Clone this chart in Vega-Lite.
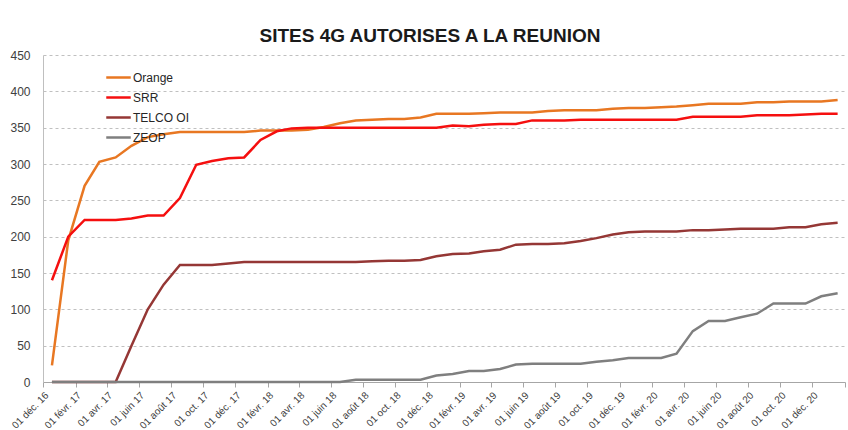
{
  "$schema": "https://vega.github.io/schema/vega-lite/v6.json",
  "width": 802,
  "height": 327,
  "autosize": "none",
  "padding": {"left": 43, "top": 55, "right": 3, "bottom": 48},
  "background": "white",
  "title": {"text": "SITES 4G AUTORISES A LA REUNION", "font": "Liberation Sans", "fontSize": 19, "fontWeight": "bold", "color": "#1a1a1a", "offset": 3, "dx": -14, "anchor": "middle"},
  "data": {"values": [
    {"date": "2016/12/18", "operator": "Orange", "sites": 23},
    {"date": "2017/01/18", "operator": "Orange", "sites": 195},
    {"date": "2017/02/18", "operator": "Orange", "sites": 270},
    {"date": "2017/03/18", "operator": "Orange", "sites": 303},
    {"date": "2017/04/18", "operator": "Orange", "sites": 309},
    {"date": "2017/05/18", "operator": "Orange", "sites": 325},
    {"date": "2017/06/18", "operator": "Orange", "sites": 337},
    {"date": "2017/07/18", "operator": "Orange", "sites": 341},
    {"date": "2017/08/18", "operator": "Orange", "sites": 344},
    {"date": "2017/09/18", "operator": "Orange", "sites": 344},
    {"date": "2017/10/18", "operator": "Orange", "sites": 344},
    {"date": "2017/11/18", "operator": "Orange", "sites": 344},
    {"date": "2017/12/18", "operator": "Orange", "sites": 344},
    {"date": "2018/01/18", "operator": "Orange", "sites": 346},
    {"date": "2018/02/18", "operator": "Orange", "sites": 346},
    {"date": "2018/03/18", "operator": "Orange", "sites": 346},
    {"date": "2018/04/18", "operator": "Orange", "sites": 347},
    {"date": "2018/05/18", "operator": "Orange", "sites": 351},
    {"date": "2018/06/18", "operator": "Orange", "sites": 356},
    {"date": "2018/07/18", "operator": "Orange", "sites": 360},
    {"date": "2018/08/18", "operator": "Orange", "sites": 361},
    {"date": "2018/09/18", "operator": "Orange", "sites": 362},
    {"date": "2018/10/18", "operator": "Orange", "sites": 362},
    {"date": "2018/11/18", "operator": "Orange", "sites": 364},
    {"date": "2018/12/18", "operator": "Orange", "sites": 369},
    {"date": "2019/01/18", "operator": "Orange", "sites": 369},
    {"date": "2019/02/18", "operator": "Orange", "sites": 369},
    {"date": "2019/03/18", "operator": "Orange", "sites": 370},
    {"date": "2019/04/18", "operator": "Orange", "sites": 371},
    {"date": "2019/05/18", "operator": "Orange", "sites": 371},
    {"date": "2019/06/18", "operator": "Orange", "sites": 371},
    {"date": "2019/07/18", "operator": "Orange", "sites": 373},
    {"date": "2019/08/18", "operator": "Orange", "sites": 374},
    {"date": "2019/09/18", "operator": "Orange", "sites": 374},
    {"date": "2019/10/18", "operator": "Orange", "sites": 374},
    {"date": "2019/11/18", "operator": "Orange", "sites": 376},
    {"date": "2019/12/18", "operator": "Orange", "sites": 377},
    {"date": "2020/01/18", "operator": "Orange", "sites": 377},
    {"date": "2020/02/18", "operator": "Orange", "sites": 378},
    {"date": "2020/03/18", "operator": "Orange", "sites": 379},
    {"date": "2020/04/18", "operator": "Orange", "sites": 381},
    {"date": "2020/05/18", "operator": "Orange", "sites": 383},
    {"date": "2020/06/18", "operator": "Orange", "sites": 383},
    {"date": "2020/07/18", "operator": "Orange", "sites": 383},
    {"date": "2020/08/18", "operator": "Orange", "sites": 385},
    {"date": "2020/09/18", "operator": "Orange", "sites": 385},
    {"date": "2020/10/18", "operator": "Orange", "sites": 386},
    {"date": "2020/11/18", "operator": "Orange", "sites": 386},
    {"date": "2020/12/18", "operator": "Orange", "sites": 386},
    {"date": "2021/01/18", "operator": "Orange", "sites": 388},
    {"date": "2016/12/18", "operator": "SRR", "sites": 140},
    {"date": "2017/01/18", "operator": "SRR", "sites": 200},
    {"date": "2017/02/18", "operator": "SRR", "sites": 223},
    {"date": "2017/03/18", "operator": "SRR", "sites": 223},
    {"date": "2017/04/18", "operator": "SRR", "sites": 223},
    {"date": "2017/05/18", "operator": "SRR", "sites": 225},
    {"date": "2017/06/18", "operator": "SRR", "sites": 229},
    {"date": "2017/07/18", "operator": "SRR", "sites": 229},
    {"date": "2017/08/18", "operator": "SRR", "sites": 253},
    {"date": "2017/09/18", "operator": "SRR", "sites": 299},
    {"date": "2017/10/18", "operator": "SRR", "sites": 304},
    {"date": "2017/11/18", "operator": "SRR", "sites": 308},
    {"date": "2017/12/18", "operator": "SRR", "sites": 309},
    {"date": "2018/01/18", "operator": "SRR", "sites": 333},
    {"date": "2018/02/18", "operator": "SRR", "sites": 345},
    {"date": "2018/03/18", "operator": "SRR", "sites": 349},
    {"date": "2018/04/18", "operator": "SRR", "sites": 350},
    {"date": "2018/05/18", "operator": "SRR", "sites": 350},
    {"date": "2018/06/18", "operator": "SRR", "sites": 350},
    {"date": "2018/07/18", "operator": "SRR", "sites": 350},
    {"date": "2018/08/18", "operator": "SRR", "sites": 350},
    {"date": "2018/09/18", "operator": "SRR", "sites": 350},
    {"date": "2018/10/18", "operator": "SRR", "sites": 350},
    {"date": "2018/11/18", "operator": "SRR", "sites": 350},
    {"date": "2018/12/18", "operator": "SRR", "sites": 350},
    {"date": "2019/01/18", "operator": "SRR", "sites": 353},
    {"date": "2019/02/18", "operator": "SRR", "sites": 352},
    {"date": "2019/03/18", "operator": "SRR", "sites": 354},
    {"date": "2019/04/18", "operator": "SRR", "sites": 355},
    {"date": "2019/05/18", "operator": "SRR", "sites": 355},
    {"date": "2019/06/18", "operator": "SRR", "sites": 360},
    {"date": "2019/07/18", "operator": "SRR", "sites": 360},
    {"date": "2019/08/18", "operator": "SRR", "sites": 360},
    {"date": "2019/09/18", "operator": "SRR", "sites": 361},
    {"date": "2019/10/18", "operator": "SRR", "sites": 361},
    {"date": "2019/11/18", "operator": "SRR", "sites": 361},
    {"date": "2019/12/18", "operator": "SRR", "sites": 361},
    {"date": "2020/01/18", "operator": "SRR", "sites": 361},
    {"date": "2020/02/18", "operator": "SRR", "sites": 361},
    {"date": "2020/03/18", "operator": "SRR", "sites": 361},
    {"date": "2020/04/18", "operator": "SRR", "sites": 365},
    {"date": "2020/05/18", "operator": "SRR", "sites": 365},
    {"date": "2020/06/18", "operator": "SRR", "sites": 365},
    {"date": "2020/07/18", "operator": "SRR", "sites": 365},
    {"date": "2020/08/18", "operator": "SRR", "sites": 367},
    {"date": "2020/09/18", "operator": "SRR", "sites": 367},
    {"date": "2020/10/18", "operator": "SRR", "sites": 367},
    {"date": "2020/11/18", "operator": "SRR", "sites": 368},
    {"date": "2020/12/18", "operator": "SRR", "sites": 369},
    {"date": "2021/01/18", "operator": "SRR", "sites": 369},
    {"date": "2016/12/18", "operator": "TELCO OI", "sites": 0},
    {"date": "2017/01/18", "operator": "TELCO OI", "sites": 0},
    {"date": "2017/02/18", "operator": "TELCO OI", "sites": 0},
    {"date": "2017/03/18", "operator": "TELCO OI", "sites": 0},
    {"date": "2017/04/18", "operator": "TELCO OI", "sites": 0},
    {"date": "2017/05/18", "operator": "TELCO OI", "sites": 50},
    {"date": "2017/06/18", "operator": "TELCO OI", "sites": 100},
    {"date": "2017/07/18", "operator": "TELCO OI", "sites": 134},
    {"date": "2017/08/18", "operator": "TELCO OI", "sites": 161},
    {"date": "2017/09/18", "operator": "TELCO OI", "sites": 161},
    {"date": "2017/10/18", "operator": "TELCO OI", "sites": 161},
    {"date": "2017/11/18", "operator": "TELCO OI", "sites": 163},
    {"date": "2017/12/18", "operator": "TELCO OI", "sites": 165},
    {"date": "2018/01/18", "operator": "TELCO OI", "sites": 165},
    {"date": "2018/02/18", "operator": "TELCO OI", "sites": 165},
    {"date": "2018/03/18", "operator": "TELCO OI", "sites": 165},
    {"date": "2018/04/18", "operator": "TELCO OI", "sites": 165},
    {"date": "2018/05/18", "operator": "TELCO OI", "sites": 165},
    {"date": "2018/06/18", "operator": "TELCO OI", "sites": 165},
    {"date": "2018/07/18", "operator": "TELCO OI", "sites": 165},
    {"date": "2018/08/18", "operator": "TELCO OI", "sites": 166},
    {"date": "2018/09/18", "operator": "TELCO OI", "sites": 167},
    {"date": "2018/10/18", "operator": "TELCO OI", "sites": 167},
    {"date": "2018/11/18", "operator": "TELCO OI", "sites": 168},
    {"date": "2018/12/18", "operator": "TELCO OI", "sites": 173},
    {"date": "2019/01/18", "operator": "TELCO OI", "sites": 176},
    {"date": "2019/02/18", "operator": "TELCO OI", "sites": 177},
    {"date": "2019/03/18", "operator": "TELCO OI", "sites": 180},
    {"date": "2019/04/18", "operator": "TELCO OI", "sites": 182},
    {"date": "2019/05/18", "operator": "TELCO OI", "sites": 189},
    {"date": "2019/06/18", "operator": "TELCO OI", "sites": 190},
    {"date": "2019/07/18", "operator": "TELCO OI", "sites": 190},
    {"date": "2019/08/18", "operator": "TELCO OI", "sites": 191},
    {"date": "2019/09/18", "operator": "TELCO OI", "sites": 194},
    {"date": "2019/10/18", "operator": "TELCO OI", "sites": 198},
    {"date": "2019/11/18", "operator": "TELCO OI", "sites": 203},
    {"date": "2019/12/18", "operator": "TELCO OI", "sites": 206},
    {"date": "2020/01/18", "operator": "TELCO OI", "sites": 207},
    {"date": "2020/02/18", "operator": "TELCO OI", "sites": 207},
    {"date": "2020/03/18", "operator": "TELCO OI", "sites": 207},
    {"date": "2020/04/18", "operator": "TELCO OI", "sites": 209},
    {"date": "2020/05/18", "operator": "TELCO OI", "sites": 209},
    {"date": "2020/06/18", "operator": "TELCO OI", "sites": 210},
    {"date": "2020/07/18", "operator": "TELCO OI", "sites": 211},
    {"date": "2020/08/18", "operator": "TELCO OI", "sites": 211},
    {"date": "2020/09/18", "operator": "TELCO OI", "sites": 211},
    {"date": "2020/10/18", "operator": "TELCO OI", "sites": 213},
    {"date": "2020/11/18", "operator": "TELCO OI", "sites": 213},
    {"date": "2020/12/18", "operator": "TELCO OI", "sites": 217},
    {"date": "2021/01/18", "operator": "TELCO OI", "sites": 219},
    {"date": "2016/12/18", "operator": "ZEOP", "sites": 0},
    {"date": "2017/01/18", "operator": "ZEOP", "sites": 0},
    {"date": "2017/02/18", "operator": "ZEOP", "sites": 0},
    {"date": "2017/03/18", "operator": "ZEOP", "sites": 0},
    {"date": "2017/04/18", "operator": "ZEOP", "sites": 0},
    {"date": "2017/05/18", "operator": "ZEOP", "sites": 0},
    {"date": "2017/06/18", "operator": "ZEOP", "sites": 0},
    {"date": "2017/07/18", "operator": "ZEOP", "sites": 0},
    {"date": "2017/08/18", "operator": "ZEOP", "sites": 0},
    {"date": "2017/09/18", "operator": "ZEOP", "sites": 0},
    {"date": "2017/10/18", "operator": "ZEOP", "sites": 0},
    {"date": "2017/11/18", "operator": "ZEOP", "sites": 0},
    {"date": "2017/12/18", "operator": "ZEOP", "sites": 0},
    {"date": "2018/01/18", "operator": "ZEOP", "sites": 0},
    {"date": "2018/02/18", "operator": "ZEOP", "sites": 0},
    {"date": "2018/03/18", "operator": "ZEOP", "sites": 0},
    {"date": "2018/04/18", "operator": "ZEOP", "sites": 0},
    {"date": "2018/05/18", "operator": "ZEOP", "sites": 0},
    {"date": "2018/06/18", "operator": "ZEOP", "sites": 0},
    {"date": "2018/07/18", "operator": "ZEOP", "sites": 3},
    {"date": "2018/08/18", "operator": "ZEOP", "sites": 3},
    {"date": "2018/09/18", "operator": "ZEOP", "sites": 3},
    {"date": "2018/10/18", "operator": "ZEOP", "sites": 3},
    {"date": "2018/11/18", "operator": "ZEOP", "sites": 3},
    {"date": "2018/12/18", "operator": "ZEOP", "sites": 9},
    {"date": "2019/01/18", "operator": "ZEOP", "sites": 11},
    {"date": "2019/02/18", "operator": "ZEOP", "sites": 15},
    {"date": "2019/03/18", "operator": "ZEOP", "sites": 15},
    {"date": "2019/04/18", "operator": "ZEOP", "sites": 18},
    {"date": "2019/05/18", "operator": "ZEOP", "sites": 24},
    {"date": "2019/06/18", "operator": "ZEOP", "sites": 25},
    {"date": "2019/07/18", "operator": "ZEOP", "sites": 25},
    {"date": "2019/08/18", "operator": "ZEOP", "sites": 25},
    {"date": "2019/09/18", "operator": "ZEOP", "sites": 25},
    {"date": "2019/10/18", "operator": "ZEOP", "sites": 28},
    {"date": "2019/11/18", "operator": "ZEOP", "sites": 30},
    {"date": "2019/12/18", "operator": "ZEOP", "sites": 33},
    {"date": "2020/01/18", "operator": "ZEOP", "sites": 33},
    {"date": "2020/02/18", "operator": "ZEOP", "sites": 33},
    {"date": "2020/03/18", "operator": "ZEOP", "sites": 39},
    {"date": "2020/04/18", "operator": "ZEOP", "sites": 70},
    {"date": "2020/05/18", "operator": "ZEOP", "sites": 84},
    {"date": "2020/06/18", "operator": "ZEOP", "sites": 84},
    {"date": "2020/07/18", "operator": "ZEOP", "sites": 89},
    {"date": "2020/08/18", "operator": "ZEOP", "sites": 94},
    {"date": "2020/09/18", "operator": "ZEOP", "sites": 108},
    {"date": "2020/10/18", "operator": "ZEOP", "sites": 108},
    {"date": "2020/11/18", "operator": "ZEOP", "sites": 108},
    {"date": "2020/12/18", "operator": "ZEOP", "sites": 118},
    {"date": "2021/01/18", "operator": "ZEOP", "sites": 122}
  ]},
  "mark": {"type": "line", "strokeWidth": 2.5},
  "encoding": {
    "x": {
      "field": "date", "type": "temporal",
      "scale": {"domain": [{"year": 2016, "month": 12, "date": 1}, {"year": 2021, "month": 2, "date": 1}]},
      "axis": {
        "title": null, "grid": false,
        "values": [
          {"year": 2016, "month": 12, "date": 1},
          {"year": 2017, "month": 2, "date": 1}, {"year": 2017, "month": 4, "date": 1}, {"year": 2017, "month": 6, "date": 1},
          {"year": 2017, "month": 8, "date": 1}, {"year": 2017, "month": 10, "date": 1}, {"year": 2017, "month": 12, "date": 1},
          {"year": 2018, "month": 2, "date": 1}, {"year": 2018, "month": 4, "date": 1}, {"year": 2018, "month": 6, "date": 1},
          {"year": 2018, "month": 8, "date": 1}, {"year": 2018, "month": 10, "date": 1}, {"year": 2018, "month": 12, "date": 1},
          {"year": 2019, "month": 2, "date": 1}, {"year": 2019, "month": 4, "date": 1}, {"year": 2019, "month": 6, "date": 1},
          {"year": 2019, "month": 8, "date": 1}, {"year": 2019, "month": 10, "date": 1}, {"year": 2019, "month": 12, "date": 1},
          {"year": 2020, "month": 2, "date": 1}, {"year": 2020, "month": 4, "date": 1}, {"year": 2020, "month": 6, "date": 1},
          {"year": 2020, "month": 8, "date": 1}, {"year": 2020, "month": 10, "date": 1}, {"year": 2020, "month": 12, "date": 1},
          {"year": 2021, "month": 2, "date": 1}
        ],
        "labelExpr": "year(datum.value) > 2020 ? '' : '01 ' + ['janv.', 'févr.', 'mars', 'avr.', 'mai', 'juin', 'juil.', 'août', 'sept.', 'oct.', 'nov.', 'déc.'][month(datum.value)] + ' ' + timeFormat(datum.value, '%y')",
        "labelAngle": -45, "labelAlign": "right", "labelBaseline": "top",
        "labelFont": "Liberation Sans", "labelFontSize": 10, "labelColor": "#404040",
        "labelOverlap": false, "labelFlush": false, "labelPadding": 3, "labelDx": 11, "labelDy": 5,
        "domainColor": "#a6a6a6", "tickColor": "#a6a6a6", "tickSize": 5
      }
    },
    "y": {
      "field": "sites", "type": "quantitative",
      "scale": {"domain": [0, 450]},
      "axis": {
        "title": null, "values": [0, 50, 100, 150, 200, 250, 300, 350, 400, 450],
        "grid": true, "gridDash": [3, 3], "gridColor": "#c0c0c0",
        "ticks": false, "domain": true, "domainColor": "#bfbfbf",
        "labelFont": "Liberation Sans", "labelFontSize": 12, "labelColor": "#404040", "labelPadding": 13
      }
    },
    "color": {
      "field": "operator", "type": "nominal",
      "scale": {"domain": ["Orange", "SRR", "TELCO OI", "ZEOP"], "range": ["#E87722", "#F50F0F", "#953735", "#7F7F7F"]},
      "legend": {
        "title": null, "orient": "none", "legendX": 62, "legendY": 9,
        "symbolType": "stroke", "symbolSize": 600, "symbolStrokeWidth": 2.5,
        "labelFont": "Liberation Sans", "labelFontSize": 12, "labelColor": "#262626",
        "labelOffset": 1, "rowPadding": -3
      }
    }
  },
  "config": {"view": {"stroke": null}}
}
